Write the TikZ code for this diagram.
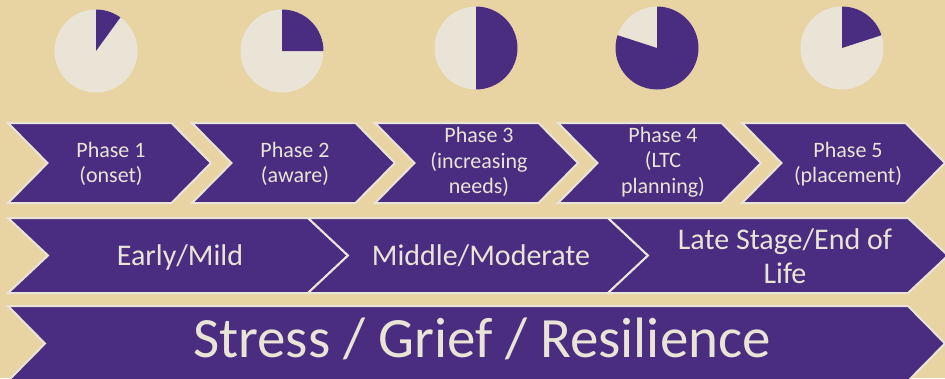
\documentclass[tikz,border=0pt]{standalone}
\usepackage{fontspec}
\setmainfont{Carlito}
\definecolor{bgc}{HTML}{E8D4A3}
\definecolor{purp}{HTML}{4A2C80}
\definecolor{cream}{HTML}{EAE4D6}
\tikzset{
  chev/.style={fill=purp, draw=cream, line width=2pt, line join=miter},
  phasetxt/.style={text=cream, align=center, font=\fontsize{22}{25.5}\selectfont, inner sep=0pt},
  stagetxt/.style={text=cream, align=center, font=\fontsize{30}{34}\selectfont, inner sep=0pt},
  bigtxt/.style={text=cream, font=\fontsize{57}{60}\selectfont, inner sep=0pt},
  pielight/.style={fill=cream},
  piepurp/.style={fill=purp},
}
% #1 left x, #2 top y, #3 width (left to tip), #4 height, #5 point depth
\newcommand{\mychev}[5]{\path[chev] (#1,#2) -- ({#1+#3-#5},#2) -- ({#1+#3},{#2-#4/2}) -- ({#1+#3-#5},{#2-#4}) -- (#1,{#2-#4}) -- ({#1+#5},{#2-#4/2}) -- cycle;}
\begin{document}
\begin{tikzpicture}[x=1pt,y=1pt]
\fill[bgc] (0,0) rectangle (945,-378);
\useasboundingbox (0,0) rectangle (945,-378);

% pies
\foreach \cx/\cy/\ea [count=\i] in {96/-51/54, 282/-51/0, 476/-48/-90, 657/-48/-198, 842/-48/18} {
  \coordinate (pie\i) at (\cx,\cy);
  \fill[pielight] (pie\i) circle[radius=41.5];
  \fill[piepurp] (pie\i) -- ++(0,41.5) arc[start angle=90, end angle=\ea, radius=41.5] -- cycle;
}

% row 1: phases
\foreach \lx in {8,192,375,558,742} {\mychev{\lx}{-123}{203}{80}{39.5}}
\node[phasetxt] (ph1) at (111,-164) {Phase 1\\(onset)};
\node[phasetxt] (ph2) at (295,-164) {Phase 2\\(aware)};
\node[phasetxt] (ph3) at (479,-162) {Phase 3\\(increasing\\needs)};
\node[phasetxt] (ph4) at (663,-162) {Phase 4\\(LTC\\planning)};
\node[phasetxt] (ph5) at (848,-164) {Phase 5\\(placement)};

% row 2: stages
\foreach \lx in {8,308,608} {\mychev{\lx}{-218}{340}{75}{40}}
\node[stagetxt, anchor=base] (st1) at (180,-265) {Early/Mild};
\node[stagetxt, anchor=base] (st2) at (481,-265) {Middle/Moderate};
\node[stagetxt] (st3) at (785,-256) {Late Stage/End of\\Life};

% row 3
\mychev{8}{-306}{937}{75}{37}
\node[bigtxt, anchor=base] (big) at (482,-357) {Stress / Grief / Resilience};
\end{tikzpicture}
\end{document}
